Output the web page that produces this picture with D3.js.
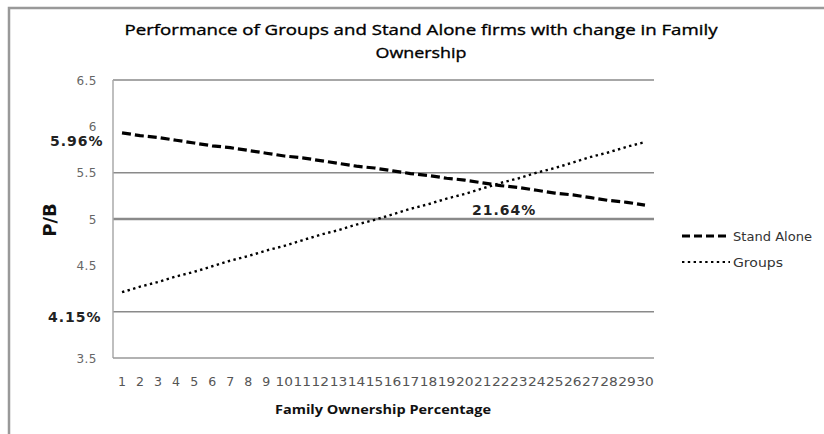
<!DOCTYPE html>
<html>
<head>
<meta charset="utf-8">
<script src="https://cdn.jsdelivr.net/npm/d3@7"></script>
<style>
  html, body { margin: 0; padding: 0; background: #fff; }
  svg { display: block; }
</style>
</head>
<body>
<svg id="chart" width="824" height="434"></svg>
<script>
// ---- data ----
const categories = d3.range(1, 31).map(String);
const standAlone = [5.93, 5.90, 5.88, 5.85, 5.82, 5.79, 5.77, 5.74, 5.71, 5.68,
                    5.66, 5.63, 5.60, 5.57, 5.55, 5.52, 5.49, 5.47, 5.44, 5.42,
                    5.39, 5.36, 5.34, 5.31, 5.28, 5.26, 5.23, 5.20, 5.18, 5.15];
const groups     = [4.21, 4.27, 4.32, 4.38, 4.43, 4.49, 4.55, 4.60, 4.66, 4.71,
                    4.77, 4.83, 4.88, 4.94, 4.99, 5.05, 5.11, 5.16, 5.22, 5.27,
                    5.33, 5.39, 5.44, 5.50, 5.55, 5.61, 5.67, 5.72, 5.78, 5.83];
const yTickLabels = [3.5, 4.5, 5, 5.5, 6, 6.5];
const gridValues = [4, 5, 5.5, 6.5];
const seriesNames = ["Stand Alone", "Groups"];
const annotations = [
  { text: "5.96%", pos: "left-top" },
  { text: "4.15%", pos: "left-bottom" },
  { text: "21.64%", pos: "cross" }
];
const titleLines = ["Performance of Groups and Stand Alone firms with change in Family", "Ownership"];
const xTitle = "Family Ownership Percentage";
const yTitle = "P/B";

// ---- layout ----
const svg = d3.select("#chart");
const plot = { left: 113, right: 654, top: 80, bottom: 358 };
const x = d3.scaleBand().domain(categories).range([plot.left, plot.right]);
const y = d3.scaleLinear().domain([3.5, 6.5]).range([plot.bottom, plot.top]);
const cx = c => x(c) + x.bandwidth() / 2;

svg.append("rect").attr("width", 824).attr("height", 434).attr("fill", "#fff");

// outer frame (left and top edges visible)
svg.append("path").attr("d", "M9,434 V8 H824")
  .attr("fill", "none").attr("stroke", "#999").attr("stroke-width", 2.5);

// title
const titleStyle = sel => sel
  .attr("text-anchor", "middle")
  .attr("font-family", "Open Sans").attr("font-size", 15).attr("fill", "#000")
  .attr("stroke", "#000").attr("stroke-width", 0.35)
  .attr("lengthAdjust", "spacingAndGlyphs");
svg.append("text").attr("x", 421).attr("y", 35)
  .call(titleStyle).attr("textLength", 593)
  .text(titleLines[0]);
svg.append("text").attr("x", 421).attr("y", 58)
  .call(titleStyle).attr("textLength", 91)
  .text(titleLines[1]);

// gridlines
svg.append("g").selectAll("line").data(gridValues).join("line")
  .attr("x1", plot.left).attr("x2", plot.right)
  .attr("y1", d => y(d)).attr("y2", d => y(d))
  .attr("stroke", "#8a8a8a")
  .attr("stroke-width", d => d === 5 ? 2.5 : 1.5);

// axes lines
svg.append("line").attr("x1", plot.left).attr("x2", plot.left)
  .attr("y1", plot.top).attr("y2", plot.bottom)
  .attr("stroke", "#aaa").attr("stroke-width", 1.5);
svg.append("line").attr("x1", plot.left).attr("x2", plot.right)
  .attr("y1", plot.bottom).attr("y2", plot.bottom)
  .attr("stroke", "#999").attr("stroke-width", 1.5);

// y tick labels
svg.append("g").selectAll("text").data(yTickLabels).join("text")
  .attr("x", 97).attr("y", d => y(d) + 4.5)
  .attr("text-anchor", "end")
  .attr("font-family", "DejaVu Sans").attr("font-size", 12).attr("fill", "#666")
  .attr("letter-spacing", 0.5)
  .text(d => d);

// x tick labels
svg.append("g").selectAll("text").data(categories).join("text")
  .attr("x", d => cx(d)).attr("y", 386)
  .attr("text-anchor", "middle")
  .attr("font-family", "DejaVu Sans").attr("font-size", 12).attr("fill", "#555")
  .attr("textLength", d => d.length === 1 ? 8 : 17.5).attr("lengthAdjust", "spacingAndGlyphs")
  .text(d => d);

// axis titles
svg.append("text").attr("x", 383).attr("y", 414)
  .attr("text-anchor", "middle")
  .attr("font-family", "Open Sans").attr("font-size", 12).attr("font-weight", "bold").attr("fill", "#111")
  .attr("textLength", 216).attr("lengthAdjust", "spacingAndGlyphs")
  .text(xTitle);
svg.append("text")
  .attr("transform", "translate(56,220) rotate(-90)")
  .attr("text-anchor", "middle")
  .attr("font-family", "DejaVu Sans").attr("font-size", 18).attr("font-weight", "bold").attr("fill", "#111")
  .text(yTitle);

// series lines
const line = d3.line().x((d, i) => cx(categories[i])).y(d => y(d));
svg.append("path").datum(standAlone).attr("d", line)
  .attr("fill", "none").attr("stroke", "#000").attr("stroke-width", 3.2)
  .attr("stroke-dasharray", "9,4");
svg.append("path").datum(groups).attr("d", line)
  .attr("fill", "none").attr("stroke", "#000").attr("stroke-width", 2.4)
  .attr("stroke-dasharray", "2.4,3.4");

// annotations
const annPos = {
  "left-top": { x: 50, y: 146 },
  "left-bottom": { x: 48, y: 322 },
  "cross": { x: 472, y: 215 }
};
svg.append("g").selectAll("text").data(annotations).join("text")
  .attr("x", d => annPos[d.pos].x).attr("y", d => annPos[d.pos].y)
  .attr("font-family", "DejaVu Sans").attr("font-size", 14).attr("font-weight", "bold")
  .attr("letter-spacing", 1).attr("fill", "#222")
  .text(d => d.text);

// legend
const legend = svg.append("g");
const legendY = [236, 262];
const legendStyles = [
  { dash: "8,4", width: 3.2 },
  { dash: "2.4,3.4", width: 2.2 }
];
seriesNames.forEach((name, i) => {
  legend.append("line").attr("x1", 682).attr("x2", 730)
    .attr("y1", legendY[i]).attr("y2", legendY[i])
    .attr("stroke", "#000").attr("stroke-width", legendStyles[i].width)
    .attr("stroke-dasharray", legendStyles[i].dash);
  legend.append("text").attr("x", 733).attr("y", legendY[i] + 4.5)
    .attr("font-family", "DejaVu Sans").attr("font-size", 12.5).attr("fill", "#333")
    .attr("textLength", i === 0 ? 79 : 50).attr("lengthAdjust", "spacingAndGlyphs")
    .text(name);
});
</script>
</body>
</html>
